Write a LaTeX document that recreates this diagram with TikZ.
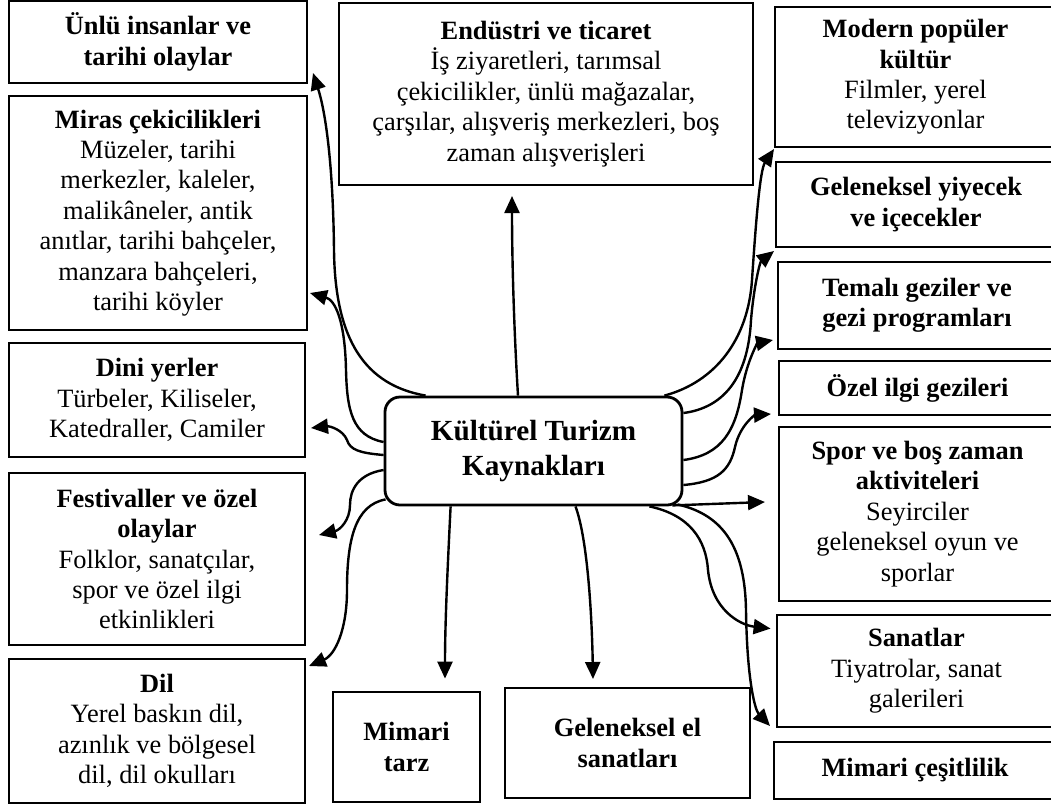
\documentclass[tikz,border=0pt]{standalone}
\usepackage{fontspec}
\setmainfont{Liberation Serif}
\usetikzlibrary{arrows.meta}

\begin{document}
\begin{tikzpicture}[
            x=0.5pt, y=-0.5pt,
            box/.style = {
                rectangle,
                draw,
                line width=1pt,
                inner sep=0pt,
                align=center,
                font=\fontsize{13.2}{15.2}\selectfont
            },
            thickbox/.style = {
                box,
                line width=1.4pt
            },
            hub/.style = {
                box,
                rounded corners=7.5pt,
                line width=1.4pt,
                minimum width=148.5pt,
                minimum height=54pt,
                font=\fontsize{14.6}{17.5}\selectfont\bfseries
            },
            link/.style = {
                line width=1.2pt,
                -{Triangle[length=8.5pt,width=7.5pt]}
            }
        ]
            \useasboundingbox (0,0) rectangle (1051,805);

            \node[hub] (ktk) at (533.5,451) {Kültürel Turizm\\Kaynakları};

            \node[box, minimum width=149pt, minimum height=41pt] (unlu) at (158,42)
                {\textbf{Ünlü insanlar ve}\\\textbf{tarihi olaylar}};
            \node[box, minimum width=149pt, minimum height=117pt] (miras) at (158,213)
                {\textbf{Miras çekicilikleri}\\Müzeler, tarihi\\merkezler, kaleler,\\malikâneler, antik\\anıtlar, tarihi bahçeler,\\manzara bahçeleri,\\tarihi köyler};
            \node[box, minimum width=148pt, minimum height=57pt] (dini) at (157,400)
                {\textbf{Dini yerler}\\Türbeler, Kiliseler,\\Katedraller, Camiler};
            \node[box, minimum width=148pt, minimum height=86pt] (fest) at (157,559)
                {\textbf{Festivaller ve özel}\\\textbf{olaylar}\\Folklor, sanatçılar,\\spor ve özel ilgi\\etkinlikleri};
            \node[box, minimum width=148pt, minimum height=72pt] (dil) at (157,731)
                {\textbf{Dil}\\Yerel baskın dil,\\azınlık ve bölgesel\\dil, dil okulları};

            \node[box, minimum width=207pt, minimum height=91pt] (endustri) at (546,94)
                {\textbf{Endüstri ve ticaret}\\İş ziyaretleri, tarımsal\\çekicilikler, ünlü mağazalar,\\çarşılar, alışveriş merkezleri, boş\\zaman alışverişleri};

            \node[box, minimum width=140.5pt, minimum height=70pt] (modern) at (915.5,77)
                {\textbf{Modern popüler}\\\textbf{kültür}\\Filmler, yerel\\televizyonlar};
            \node[box, minimum width=140pt, minimum height=42.5pt] (yiyecek) at (916,204.5)
                {\textbf{Geleneksel yiyecek}\\\textbf{ve içecekler}};
            \node[box, minimum width=139pt, minimum height=43.5pt] (temali) at (917,305.5)
                {\textbf{Temalı geziler ve}\\\textbf{gezi programları}};
            \node[box, minimum width=138.5pt, minimum height=27pt] (ozel) at (917.5,388)
                {\textbf{Özel ilgi gezileri}};
            \node[box, minimum width=138.5pt, minimum height=87pt] (spor) at (917.5,514)
                {\textbf{Spor ve boş zaman}\\\textbf{aktiviteleri}\\Seyirciler\\geleneksel oyun ve\\sporlar};
            \node[thickbox, minimum width=139.5pt, minimum height=56pt] (sanat) at (916.5,671)
                {\textbf{Sanatlar}\\Tiyatrolar, sanat\\galerileri};
            \node[box, minimum width=141pt, minimum height=28.5pt] (mimcesit) at (915,770.5)
                {\textbf{Mimari çeşitlilik}};

            \node[thickbox, minimum width=73.5pt, minimum height=55pt] (mimtarz) at (406.5,747)
                {\textbf{Mimari}\\\textbf{tarz}};
            \node[box, minimum width=122.5pt, minimum height=55pt] (elsanat) at (627.5,743)
                {\textbf{Geleneksel el}\\\textbf{sanatları}};

            \draw[link] ([xshift=21pt]ktk.north west) .. controls (365,385) and (335,340) .. (334,250)
                .. controls (333,160) and (325,110) .. ([xshift=2.5pt,yshift=-15.5pt]unlu.east);
            \draw[link] ([yshift=4.5pt]ktk.west) .. controls (352,436) and (347,410) .. (346,370)
                .. controls (345,320) and (335,300) .. ([xshift=1pt,yshift=-40pt]miras.east);
            \draw[link] ([yshift=-2pt]ktk.west) .. controls (360,453) and (350,450) .. (347,440)
                .. controls (343,430) and (330,426) .. ([xshift=2.5pt,yshift=-14pt]dini.east);
            \draw[link] ([yshift=-9.5pt]ktk.west) .. controls (358,474) and (350,490) .. (350,505)
                .. controls (350,520) and (340,530) .. ([xshift=6.5pt,yshift=12pt]fest.east);
            \draw[link] ([xshift=1pt,yshift=3.5pt]ktk.south west) .. controls (355,505) and (347,540) .. (347,590)
                .. controls (347,630) and (335,655) .. ([xshift=1.5pt,yshift=-4pt]dil.north east);

            \draw[link] ([xshift=33.5pt]ktk.south west) .. controls (448,560) and (445,620) .. ([xshift=19.25pt,yshift=6pt]mimtarz.north);
            \draw[link] ([xshift=21pt]ktk.south) .. controls (588,540) and (592,620) .. ([xshift=-17.25pt,yshift=4pt]elsanat.north);

            \draw[link] ([xshift=-3pt,yshift=1pt]ktk.south east) .. controls (725,515) and (745,550) .. (746,610)
                .. controls (747,680) and (755,710) .. ([xshift=-1.5pt,yshift=7.5pt]mimcesit.north west);
            \draw[link] ([xshift=-5.5pt,yshift=0.5pt]ktk.south east) -- ([xshift=-6.5pt,yshift=6pt]spor.west);
            \draw[link] ([xshift=-17pt]ktk.south east) .. controls (690,515) and (706,540) .. (708,570)
                .. controls (712,610) and (740,625) .. ([xshift=-2.5pt,yshift=-7.5pt]sanat.north west);
            \draw[link] ([yshift=-17pt]ktk.east) .. controls (718,482) and (730,470) .. (735,447)
                .. controls (740,425) and (755,415) .. ([xshift=-3.5pt,yshift=1pt]ozel.south west);
            \draw[link] ([yshift=-4.5pt]ktk.east) .. controls (722,455) and (736,430) .. (742,390)
                .. controls (747,360) and (758,343) .. ([xshift=-2pt,yshift=5pt]temali.south west);
            \draw[link] ([yshift=19pt]ktk.east) .. controls (722,408) and (748,380) .. (751,320)
                .. controls (754,285) and (760,262) .. ([xshift=-0.5pt,yshift=-1.5pt]yiyecek.south west);
            \draw[link] ([xshift=-9.5pt]ktk.north east) .. controls (715,382) and (748,340) .. (752,280)
                .. controls (756,220) and (760,170) .. ([yshift=-0.5pt]modern.south west);

            \draw[link] ([xshift=-7.75pt]ktk.north) .. controls (514,330) and (512,260) .. ([xshift=-17pt,yshift=-5pt]endustri.south);

        \end{tikzpicture}
\end{document}
